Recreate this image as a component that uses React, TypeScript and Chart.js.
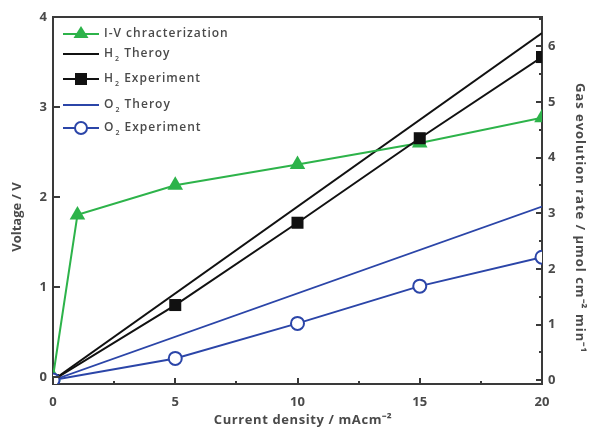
import React, { useEffect, useRef } from 'react';
import { Chart, registerables } from 'chart.js';

Chart.register(...registerables);

// ---- data ----
const xCurrent = [0, 1, 5, 10, 15, 20];
const ivVoltage = [0, 1.8, 2.13, 2.36, 2.6, 2.88];
const xTheory = [0, 20];
const h2Theory = [0, 6.24];
const o2Theory = [0, 3.12];
const xExp = [0, 5, 10, 15, 20];
const h2Exp = [0, 1.35, 2.83, 4.35, 5.81];
const o2Exp = [0, 0.39, 1.02, 1.69, 2.21];

const xMajorTicks = [0, 5, 10, 15, 20];
const xMinorTicks = [2.5, 7.5, 12.5, 17.5];
const leftTicks = [0, 1, 2, 3, 4];
const rightTicks = [0, 1, 2, 3, 4, 5, 6];
const rightMinorTicks = [0.5, 1.5, 2.5, 3.5, 4.5, 5.5, 6.5];

const xTitle = 'Current density / mAcm⁻²';
const leftTitle = 'Voltage / V';
const rightTitle = 'Gas evolution rate / μmol cm⁻² min⁻¹';

const legendLabels = [
  { pre: 'I-V chracterization', sub: '', post: '' },
  { pre: 'H', sub: '2', post: ' Theroy' },
  { pre: 'H', sub: '2', post: ' Experiment' },
  { pre: 'O', sub: '2', post: ' Theroy' },
  { pre: 'O', sub: '2', post: ' Experiment' },
];

const GREEN = '#2db34a';
const BLACK = '#111111';
const BLUE = '#2b45a8';
const AXIS = '#3a3a3a';
const TEXT = '#4a4a4a';
const FONT = "'Open Sans', sans-serif";

const pts = (xs: number[], ys: number[]) => xs.map((x, i) => ({ x, y: ys[i] }));

const ticksPlugin = {
  id: 'innerTicks',
  afterDraw(chart: any) {
    const { ctx, chartArea } = chart;
    const { left, right, top, bottom } = chartArea;
    const x = chart.scales.x;
    const y = chart.scales.y;
    const y1 = chart.scales.y1;
    ctx.save();
    ctx.strokeStyle = AXIS;
    ctx.lineWidth = 2;
    ctx.beginPath();
    xMajorTicks.forEach((v) => {
      const px = Math.round(x.getPixelForValue(v));
      ctx.moveTo(px, bottom);
      ctx.lineTo(px, bottom - 6);
    });
    xMinorTicks.forEach((v) => {
      const px = Math.round(x.getPixelForValue(v));
      ctx.moveTo(px, bottom);
      ctx.lineTo(px, bottom - 3);
    });
    leftTicks.forEach((v) => {
      const py = Math.round(y.getPixelForValue(v));
      ctx.moveTo(left, py);
      ctx.lineTo(left + 7, py);
    });
    rightTicks.forEach((v) => {
      const py = Math.round(y1.getPixelForValue(v));
      ctx.moveTo(right, py);
      ctx.lineTo(right - 6, py);
    });
    rightMinorTicks.forEach((v) => {
      const py = Math.round(y1.getPixelForValue(v));
      ctx.moveTo(right, py);
      ctx.lineTo(right - 3, py);
    });
    ctx.moveTo(left - 1, top);
    ctx.lineTo(right + 1, top);
    ctx.stroke();

    // axis titles with letter spacing
    ctx.fillStyle = TEXT;
    ctx.font = `bold 13px ${FONT}`;
    ctx.textAlign = 'center';
    ctx.textBaseline = 'middle';
    (ctx as any).letterSpacing = '0.6px';
    ctx.fillText(xTitle, 303, 420);

    ctx.save();
    (ctx as any).letterSpacing = '0px';
    ctx.translate(17, 217);
    ctx.rotate(-Math.PI / 2);
    ctx.fillText(leftTitle, 0, 0);
    ctx.restore();

    ctx.save();
    (ctx as any).letterSpacing = '1px';
    ctx.translate(580, 218);
    ctx.rotate(Math.PI / 2);
    ctx.fillText(rightTitle, 0, 0);
    ctx.restore();

    ctx.restore();
  },
};

const legendPlugin = {
  id: 'customLegend',
  afterDraw(chart: any) {
    const { ctx, chartArea } = chart;
    const x0 = chartArea.left + 10;
    const lineLen = 36;
    const rows = [34, 54, 79, 105, 128];
    const styles = [
      { color: GREEN, marker: 'triangle', width: 2 },
      { color: BLACK, marker: '', width: 2 },
      { color: BLACK, marker: 'rect', width: 2 },
      { color: BLUE, marker: '', width: 1.8 },
      { color: BLUE, marker: 'circle', width: 1.8 },
    ];
    ctx.save();
    rows.forEach((ry, i) => {
      const s = styles[i];
      ctx.strokeStyle = s.color;
      ctx.lineWidth = s.width;
      ctx.beginPath();
      ctx.moveTo(x0, ry);
      ctx.lineTo(x0 + lineLen, ry);
      ctx.stroke();
      const cx = x0 + lineLen / 2;
      if (s.marker === 'triangle') {
        ctx.fillStyle = s.color;
        ctx.beginPath();
        ctx.moveTo(cx, ry - 8);
        ctx.lineTo(cx + 7.5, ry + 4);
        ctx.lineTo(cx - 7.5, ry + 4);
        ctx.closePath();
        ctx.fill();
      } else if (s.marker === 'rect') {
        ctx.fillStyle = s.color;
        ctx.fillRect(cx - 6, ry - 6, 12, 12);
      } else if (s.marker === 'circle') {
        ctx.fillStyle = '#ffffff';
        ctx.lineWidth = 2;
        ctx.beginPath();
        ctx.arc(cx, ry, 6, 0, Math.PI * 2);
        ctx.fill();
        ctx.stroke();
      }
      const l = legendLabels[i];
      ctx.fillStyle = TEXT;
      ctx.textBaseline = 'middle';
      ctx.textAlign = 'left';
      (ctx as any).letterSpacing = '1px';
      let tx = x0 + lineLen + 5;
      ctx.font = `600 12px ${FONT}`;
      ctx.fillText(l.pre, tx, ry);
      tx += ctx.measureText(l.pre).width + 1;
      if (l.sub) {
        ctx.font = `600 7px ${FONT}`;
        ctx.fillText(l.sub, tx, ry + 5);
        tx += ctx.measureText(l.sub).width;
        ctx.font = `600 12px ${FONT}`;
        ctx.fillText(l.post, tx, ry);
      }
    });
    ctx.restore();
  },
};

export default function App() {
  const ref = useRef<HTMLCanvasElement | null>(null);
  useEffect(() => {
    if (!ref.current) return;
    const tickFont = { family: FONT, size: 13, weight: 'bold' as const };
    const chart = new Chart(ref.current, {
      type: 'scatter',
      data: {
        datasets: [
          {
            label: 'O2 Experiment',
            data: pts(xExp, o2Exp),
            yAxisID: 'y1',
            showLine: true,
            borderColor: BLUE,
            borderWidth: 2,
            pointStyle: 'circle',
            pointRadius: 6.5,
            pointBorderWidth: 2,
            pointBackgroundColor: '#ffffff',
            pointBorderColor: BLUE,
            order: 0,
          },
          {
            label: 'H2 Experiment',
            data: pts(xExp, h2Exp),
            yAxisID: 'y1',
            showLine: true,
            borderColor: BLACK,
            borderWidth: 2,
            pointStyle: 'rect',
            pointRadius: 8.5,
            pointBackgroundColor: BLACK,
            pointBorderColor: BLACK,
            pointBorderWidth: 0,
            order: 1,
          },
          {
            label: 'I-V chracterization',
            data: pts(xCurrent, ivVoltage),
            yAxisID: 'y',
            showLine: true,
            borderColor: GREEN,
            borderWidth: 2,
            pointStyle: 'triangle',
            pointRadius: 9,
            pointBackgroundColor: GREEN,
            pointBorderColor: GREEN,
            pointBorderWidth: 0,
            order: 2,
          },
          {
            label: 'H2 Theroy',
            data: pts(xTheory, h2Theory),
            yAxisID: 'y1',
            showLine: true,
            borderColor: BLACK,
            borderWidth: 2,
            pointRadius: 0,
            order: 3,
          },
          {
            label: 'O2 Theroy',
            data: pts(xTheory, o2Theory),
            yAxisID: 'y1',
            showLine: true,
            borderColor: BLUE,
            borderWidth: 1.8,
            pointRadius: 0,
            order: 4,
          },
        ],
      },
      options: {
        responsive: false,
        animation: false,
        layout: { padding: { top: 17, left: 0, right: 0, bottom: 0 } },
        plugins: { legend: { display: false }, tooltip: { enabled: false } },
        scales: {
          x: {
            type: 'linear',
            min: 0,
            max: 20,
            grid: { display: false, drawTicks: false },
            border: { display: true, color: AXIS, width: 2 },
            ticks: { stepSize: 5, font: tickFont, color: TEXT, padding: 10 },
            afterBuildTicks: (s: any) => {
              s.ticks = xMajorTicks.map((v) => ({ value: v }));
            },
            afterFit: (s: any) => {
              s.height = 48;
            },
            title: { display: false },
          },
          y: {
            type: 'linear',
            position: 'left',
            min: -0.08,
            max: 4,
            grid: { display: false, drawTicks: false },
            border: { display: true, color: AXIS, width: 2 },
            ticks: { font: tickFont, color: TEXT, padding: 6 },
            afterBuildTicks: (s: any) => {
              s.ticks = leftTicks.map((v) => ({ value: v }));
            },
            afterFit: (s: any) => {
              s.width = 53;
            },
            title: { display: false },
          },
          y1: {
            type: 'linear',
            position: 'right',
            min: -0.07,
            max: 6.53,
            grid: { display: false, drawTicks: false },
            border: { display: true, color: AXIS, width: 2 },
            ticks: { font: tickFont, color: TEXT, padding: 6 },
            afterBuildTicks: (s: any) => {
              s.ticks = rightTicks.map((v) => ({ value: v }));
            },
            afterFit: (s: any) => {
              s.width = 51;
            },
            title: { display: false },
          },
        },
      },
      plugins: [ticksPlugin, legendPlugin],
    });
    return () => chart.destroy();
  }, []);
  return (
    <div style={{ position: 'absolute', left: 0, top: 0, width: 593, height: 432, background: '#fff' }}>
      <canvas ref={ref} width={593} height={432} style={{ display: 'block' }} />
    </div>
  );
}
